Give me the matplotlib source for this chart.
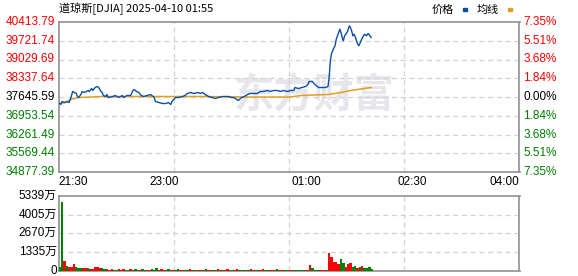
import matplotlib
matplotlib.use("Agg")
import matplotlib.pyplot as plt
from matplotlib.transforms import blended_transform_factory
import numpy as np

plt.rcParams["font.family"] = ["Liberation Sans", "Noto Sans CJK SC", "DejaVu Sans"]

# ---------------- data ----------------
prev_close = 37645.59
price_ticks = [40413.79, 39721.74, 39029.69, 38337.64, 37645.59,
               36953.54, 36261.49, 35569.44, 34877.39]
pct_labels = ["7.35%", "5.51%", "3.68%", "1.84%", "0.00%",
              "1.84%", "3.68%", "5.51%", "7.35%"]
time_labels = ["21:30", "23:00", "01:00", "02:30", "04:00"]
vol_ticks = [0, 1335, 2670, 4005, 5339]
vol_labels = ["0", "1335万", "2670万", "4005万", "5339万"]

# minutes since 21:30 and price
price_minutes = [1, 2, 3, 5, 7, 9, 10, 12, 15, 16, 17, 19, 20, 22, 25, 26, 28, 29, 31, 33,
                 34, 36, 37, 38, 40, 41, 42, 46, 48, 51, 54, 55, 58, 61, 63, 64, 66, 68, 70, 72,
                 75, 78, 80, 81, 82, 85, 88, 91, 93, 95, 96, 99, 102, 105, 107, 109, 112, 114, 118, 120,
                 122, 124, 127, 130, 133, 135, 139, 141, 144, 146, 148, 151, 152, 155, 157, 160, 162, 165, 168, 171,
                 173, 177, 179, 182, 185, 188, 190, 194, 196, 199, 200, 203, 206, 209, 211, 212, 215, 216, 218, 220,
                 223, 226, 228, 229, 230, 231, 232.5, 234, 235, 237, 238, 239, 240, 241, 242, 243, 244.5, 246, 247, 248,
                 249, 250, 251.5, 252.5, 254, 255, 256.5, 258, 259, 260.5, 262, 263.5, 264.5]
price_values = [37406, 37369, 37479, 37443, 37479, 37443, 37553, 37849, 37775, 37664, 37627, 37738, 37849, 37812, 37886, 37849, 37959, 37886, 37996, 38033,
                37996, 37849, 37812, 37701, 37664, 37738, 37627, 37664, 37701, 37627, 37701, 37627, 37701, 37701, 37886, 37922, 37849, 37812, 37701, 37664,
                37701, 37738, 37664, 37627, 37479, 37443, 37406, 37406, 37443, 37369, 37479, 37627, 37627, 37664, 37701, 37775, 37812, 37775, 37812, 37775,
                37812, 37738, 37664, 37627, 37590, 37627, 37664, 37664, 37664, 37627, 37627, 37553, 37516, 37627, 37664, 37738, 37775, 37775, 37775, 37849,
                37849, 37886, 37849, 37886, 37886, 37849, 37886, 37849, 37886, 37886, 37996, 37959, 37996, 38033, 38107, 38218, 38218, 38144, 38070, 37996,
                37996, 37996, 38033, 38400, 39004, 39251, 39410, 39546, 39779, 40026, 40148, 40026, 39842, 39720, 39905, 39963, 40063, 40273, 40211, 40089,
                39905, 39963, 39816, 39657, 39535, 39620, 39779, 39905, 39963, 39905, 39989, 39905, 39842]

avg_minutes = [1, 6, 10, 17, 27, 36, 78, 120, 162, 196, 205, 228, 239, 247, 264.5]
avg_values = [37406, 37443, 37553, 37627, 37645, 37664, 37664, 37664, 37645, 37645,
              37701, 37738, 37812, 37886, 37996]

# volume in 2-minute bins (万), r = up bar, g = down bar
vol_values = [280, 4930, 650, 290, 280, 260, 430, 250, 180, 170, 170, 150, 160, 110, 90, 220, 230, 150, 200, 130,
              80, 70, 90, 60, 70, 80, 70, 120, 70, 60, 80, 70, 120, 60, 70, 80, 60, 70, 60, 80,
              70, 145, 60, 110, 70, 60, 80, 70, 60, 70, 80, 60, 70, 60, 70, 80, 60, 70, 60, 70,
              60, 70, 80, 60, 70, 60, 70, 80, 60, 70, 60, 80, 70, 60, 70, 80, 60, 70, 60, 70,
              60, 80, 70, 60, 70, 60, 80, 70, 60, 70, 60, 70, 80, 60, 70, 60, 70, 60, 70, 60,
              60, 70, 60, 60, 70, 60, 360, 170, 60, 60, 70, 60, 60, 70,
              1250, 1000, 620, 580, 480, 800, 550, 220, 430, 520, 250, 330, 200, 280, 300, 200, 200, 250, 80]
vol_up = ("ggrgrrrgggrrgrrrrrgg"
          "rrrggrrrggrggrrggrrg"
          "ggrrrggrrggrrggrrggr"
          "rggrrggrrgrrggrrggrg"
          "grrggrrggrrggrrggrrg"
          "ggggrgrgggrrrg"
          "rrrrrggrrrggrgrgggg")

# ---------------- figure ----------------
W, H = 578, 276
fig = plt.figure(figsize=(W / 100, H / 100), dpi=100)

def fx(px):
    return px / W

def fy(py):
    return 1 - py / H

ax = fig.add_axes([fx(58.5), fy(172), fx(519.5) - fx(58.5), fy(22) - fy(172)])
axv = fig.add_axes([fx(58.5), fy(270.5), fx(519.5) - fx(58.5), fy(196) - fy(270.5)])

grid_x = [97.5, 195, 292.5]
grid_kw = dict(color="#d2d2d2", lw=0.9, ls=(0, (4, 3)), zorder=1)
red, green, dark = "#ff0000", "#008000", "#000000"

for a in (ax, axv):
    a.set_xlim(0, 390)
    a.set_xticks([])
    a.set_yticks([])
    for s in a.spines.values():
        s.set_color("#999999")
        s.set_linewidth(1.3)
    for gx in grid_x:
        a.axvline(gx, **grid_kw)

# ---- price panel ----
ax.set_ylim(price_ticks[-1], price_ticks[0])
for p in price_ticks[1:-1]:
    ax.axhline(p, **grid_kw)

# watermark
ax.text(0.555, 0.51, "东方财富", transform=ax.transAxes, ha="center", va="center",
        fontsize=29, fontweight="bold", color="#e6e6ec", family=["Noto Sans CJK SC"], zorder=0)

ax.plot(avg_minutes, avg_values, color="#e0a020", lw=1.1, zorder=3)
ax.plot(price_minutes, price_values, color="#0d4fa3", lw=1.0, zorder=4)

tr = blended_transform_factory(ax.transAxes, ax.transData)
for p, lab in zip(price_ticks, pct_labels):
    if p > prev_close:
        c = red
    elif p < prev_close:
        c = green
    else:
        c = dark
    ax.text(-0.008, p, f"{p:.2f}", transform=tr, ha="right", va="center", fontsize=8.5, color=c)
    ax.text(1.008, p, lab, transform=tr, ha="left", va="center", fontsize=8.5, color=c)

# time labels (placed as in the original, not centred on grid)
label_x = [0, 89.3, 209.4, 299.6, 390]
label_ha = ["left", "center", "center", "center", "right"]
trx = blended_transform_factory(ax.transData, ax.transAxes)
for xm, lab, ha in zip(label_x, time_labels, label_ha):
    ax.text(xm, -0.065, lab, transform=trx, ha=ha, va="center", fontsize=8.5, color=dark)

# ---- volume panel ----
axv.set_ylim(0, vol_ticks[-1])
for v in vol_ticks[1:-1]:
    axv.axhline(v, **grid_kw)
vx = np.arange(len(vol_values)) * 2
vcol = [red if c == "r" else green for c in vol_up]
axv.bar(vx, vol_values, width=2, align="edge", color=vcol, linewidth=0, zorder=3)

trv = blended_transform_factory(axv.transAxes, axv.transData)
for v, lab in zip(vol_ticks, vol_labels):
    axv.text(-0.004, v, lab, transform=trv, ha="right", va="center", fontsize=8.5,
             color=dark, family=["Liberation Sans", "Noto Sans CJK SC"])

# ---- header ----
fig.text(fx(59), fy(8.5), "道琼斯[DJIA] 2025-04-10 01:55", ha="left", va="center",
         fontsize=8, color=dark, family=["Noto Sans CJK SC"])
fig.text(fx(432), fy(9.5), "价格", ha="left", va="center", fontsize=8, color=dark,
         family=["Noto Sans CJK SC"])
fig.patches.append(plt.Rectangle((fx(463), fy(11)), fx(4), fy(8) - fy(11),
                                 transform=fig.transFigure, color="#0d4fa3"))
fig.text(fx(477), fy(9.5), "均线", ha="left", va="center", fontsize=8, color=dark,
         family=["Noto Sans CJK SC"])
fig.patches.append(plt.Rectangle((fx(508), fy(11)), fx(4), fy(8) - fy(11),
                                 transform=fig.transFigure, color="#e0a020"))

fig.savefig("out.png", dpi=100)
